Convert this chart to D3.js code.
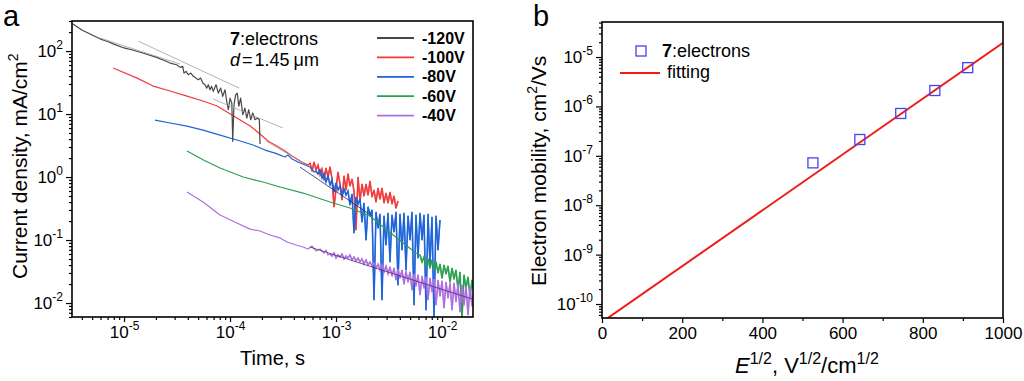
<!DOCTYPE html>
<html><head><meta charset="utf-8">
<script src="https://cdn.jsdelivr.net/npm/d3@7"></script>
<style>
html,body{margin:0;padding:0;background:#fff;}
svg{display:block;}
</style></head><body>
<svg id="chart" width="1024" height="381"></svg>
<script>
// ================= DATA =================
// Panel a: current transients
const timeDomain = [3.23e-6, 1.96e-2];
const currentDomain = [6.0e-3, 300];
const timeTicks = [1e-5, 1e-4, 1e-3, 1e-2];
const timeTickLabels = ["-5", "-4", "-3", "-2"];
const currentTicks = [1e-2, 1e-1, 1, 10, 100];
const currentTickLabels = ["-2", "-1", "0", "1", "2"];
const voltages = ["-120V", "-100V", "-80V", "-60V", "-40V"];

// -120 V
const t120 = [3.3e-6, 4e-6, 5e-6, 6e-6, 7e-6, 8e-6, 1e-5, 1.2e-5, 1.5e-5, 2e-5, 2.5e-5,
  2.72e-5, 3.14e-5, 3.38e-5, 3.58e-5, 3.68e-5, 3.85e-5, 4.04e-5, 4.26e-5, 4.51e-5, 4.78e-5,
  5.02e-5, 5.29e-5, 5.53e-5, 5.81e-5, 6.03e-5, 6.24e-5, 6.47e-5, 6.71e-5, 6.95e-5, 7.38e-5,
  7.76e-5, 8.17e-5, 8.53e-5, 8.97e-5, 9.31e-5, 9.64e-5, 1.00e-4, 1.04e-4, 1.06e-4, 1.09e-4,
  1.13e-4, 1.17e-4, 1.21e-4, 1.26e-4, 1.32e-4, 1.38e-4, 1.44e-4, 1.50e-4, 1.57e-4, 1.64e-4,
  1.72e-4, 1.81e-4, 1.89e-4, 1.92e-4];
const j120 = [268, 216, 180, 155, 142, 129, 112, 104, 93, 80, 69,
  64.5, 60.6, 55.1, 57.2, 44.8, 47.6, 42.1, 44.8, 39.7, 37.2,
  35.0, 37.2, 31.0, 29.2, 25.8, 29.2, 24.3, 27.5, 22.9, 29.2,
  21.5, 25.8, 19.1, 24.3, 15.9, 11.7, 17.9, 14.9, 3.69, 14.1,
  20.2, 21.5, 13.3, 17.9, 9.75, 12.4, 8.64, 11.7, 8.12, 10.4,
  8.12, 8.64, 8.12, 3.34];

// early (smooth) parts of the other transients
const t100Head = [7.9e-6, 1.33e-5, 1.88e-5, 2.72e-5, 3.93e-5, 5.56e-5, 7.54e-5, 9.37e-5, 1.16e-4, 1.55e-4, 1.92e-4, 2.28e-4, 2.66e-4, 3.30e-4, 3.85e-4, 4.77e-4, 5.44e-4];
const j100Head = [53.7, 37.2, 27.8, 23.2, 19.3, 16.1, 13.4, 10.8, 8.64, 6.45, 4.82, 3.73, 3.22, 2.59, 2.15, 1.73, 1.55];
const t80Head = [1.96e-5, 2.72e-5, 3.93e-5, 5.56e-5, 8.05e-5, 1.16e-4, 1.65e-4, 2.14e-4, 2.66e-4, 3.30e-4, 3.52e-4, 3.85e-4, 4.38e-4, 5.10e-4, 5.68e-4, 5.94e-4, 6.20e-4];
const j80Head = [8.03, 7.20, 6.45, 5.57, 4.64, 3.87, 3.22, 2.68, 2.40, 2.08, 2.23, 1.93, 1.73, 1.55, 1.44, 1.34, 1.20];
const t60Head = [3.93e-5, 5.61e-5, 8.05e-5, 1.33e-4, 2.05e-4, 2.96e-4, 4.89e-4, 8.78e-4, 1.355e-3, 2.093e-3, 3.03e-3, 4.29e-3, 5.68e-3];
const j60Head = [2.59, 1.86, 1.39, 1.00, 0.833, 0.694, 0.557, 0.401, 0.322, 0.241, 0.144, 0.0897, 0.0622];
const t40Head = [3.93e-5, 5.56e-5, 8.05e-5, 1.16e-4, 1.55e-4, 1.92e-4, 2.38e-4, 2.96e-4, 3.45e-4, 4.19e-4, 4.89e-4, 5.44e-4, 5.94e-4, 6.48e-4, 7.06e-4, 7.70e-4, 8.04e-4, 8.40e-4];
const j40Head = [0.578, 0.401, 0.250, 0.186, 0.149, 0.139, 0.120, 0.108, 0.0930, 0.0833, 0.0774, 0.0720, 0.0803, 0.0669, 0.0720, 0.0622, 0.0694, 0.0578];

// noisy tails share one time grid
const tailTime = [5.68e-4, 5.94e-4, 6.20e-4, 6.48e-4, 6.76e-4, 7.06e-4, 7.38e-4, 7.70e-4, 8.04e-4, 8.40e-4,
  8.78e-4, 9.17e-4, 9.57e-4, 1.000e-3, 1.044e-3, 1.091e-3, 1.139e-3, 1.190e-3, 1.243e-3, 1.298e-3,
  1.355e-3, 1.416e-3, 1.478e-3, 1.544e-3, 1.613e-3, 1.684e-3, 1.759e-3, 1.837e-3, 1.919e-3, 2.004e-3,
  2.093e-3, 2.186e-3, 2.283e-3, 2.384e-3, 2.490e-3, 2.600e-3, 2.716e-3, 2.836e-3, 2.962e-3, 3.094e-3,
  3.231e-3, 3.374e-3, 3.524e-3, 3.681e-3, 3.844e-3, 4.015e-3, 4.193e-3, 4.379e-3, 4.573e-3, 4.776e-3,
  4.988e-3, 5.21e-3, 5.44e-3, 5.68e-3, 5.94e-3, 6.20e-3, 6.48e-3, 6.76e-3, 7.06e-3, 7.38e-3,
  7.70e-3, 8.04e-3, 8.40e-3, 8.78e-3, 9.17e-3, 9.57e-3, 1.000e-2, 1.044e-2, 1.091e-2, 1.139e-2,
  1.190e-2, 1.243e-2, 1.298e-2, 1.355e-2, 1.416e-2, 1.478e-2, 1.544e-2, 1.613e-2, 1.684e-2, 1.759e-2,
  1.837e-2, 1.919e-2, 2.004e-2];
const tail100Start = 0, tail80Start = 3, tail60Start = 55, tail40Start = 10;
const j100Tail = [1.67, 1.24, 1.73, 1.29, 1.55, 1.08, 1.34, 0.896, 1.39, 1.00,
  1.45, 0.929, 0.335, 0.645, 1.20, 0.774, 0.432, 1.04, 0.622, 1.12,
  0.720, 0.929, 0.600, 0.144, 1.00, 0.416, 0.774, 0.500, 0.774, 0.518,
  0.864, 0.482, 0.622, 0.401, 0.669, 0.447, 0.669, 0.387, 0.557, 0.387,
  0.578, 0.373, 0.500, 0.322, 0.416];
const j80Tail = [1.24, 1.12, 1.29, 0.964, 1.12, 0.833, 1.04, 0.746, 0.896, 0.578,
  0.803, 0.622, 0.720, 0.500, 0.645, 0.518, 0.600, 0.360, 0.537, 0.129,
  0.482, 0.373, 0.447, 0.193, 0.387, 0.100, 0.335, 0.250, 0.300, 0.0112,
  0.278, 0.155, 0.259, 0.0112, 0.241, 0.0833, 0.268, 0.0448, 0.250, 0.134,
  0.278, 0.0193, 0.259, 0.0694, 0.268, 0.0334, 0.241, 0.100, 0.278, 0.00929,
  0.250, 0.0518, 0.268, 0.100, 0.250, 0.00774, 0.259, 0.0401, 0.232, 0.0058,
  0.241, 0.0694, 0.208];
const j60Tail = [0.0578, 0.0448, 0.0537, 0.0387, 0.0500, 0.0359, 0.0482, 0.0334, 0.0448, 0.0300,
  0.0416, 0.0249, 0.0401, 0.0289, 0.0387, 0.0215, 0.0359, 0.0240, 0.0334, 0.0161,
  0.0311, 0.0058, 0.0279, 0.0173, 0.0259, 0.0129, 0.0232, 0.0150];
const j40Tail = [0.0600, 0.0557, 0.0622, 0.0518, 0.0578, 0.0537, 0.0600, 0.0500, 0.0557, 0.0518,
  0.0578, 0.0482, 0.0537, 0.0465, 0.0518, 0.0448, 0.0500, 0.0416, 0.0482, 0.0401,
  0.0448, 0.0387, 0.0432, 0.0359, 0.0416, 0.0334, 0.0401, 0.0311, 0.0387, 0.0289,
  0.0373, 0.0268, 0.0359, 0.0232, 0.0346, 0.0249, 0.0334, 0.0200, 0.0322, 0.0215,
  0.0311, 0.0161, 0.0289, 0.0186, 0.0279, 0.0134, 0.0268, 0.0173, 0.0259, 0.0112,
  0.0249, 0.0150, 0.0240, 0.00929, 0.0232, 0.0129, 0.0224, 0.00833, 0.0215, 0.0120,
  0.0207, 0.00774, 0.0207, 0.0104, 0.0200, 0.00720, 0.0193, 0.00929, 0.0186, 0.00645,
  0.0179, 0.00896, 0.0161];

// thin transit-time guide lines (two end points each)
const guideT = [[5.94e-6, 3.38e-5], [1.36e-5, 1.22e-4], [6.92e-5, 3.16e-4], [2.19e-4, 4.89e-4], [4.57e-4, 2.186e-3], [5.68e-4, 1.919e-2]];
const guideJ = [[161, 62.2], [144, 25.8], [17.3, 6.00], [3.73, 1.67], [1.44, 0.241], [0.0774, 0.0116]];

// Panel b: mobility vs sqrt(E)
const fieldDomain = [0, 1000];
const mobilityDomain = [5.21e-11, 5.12e-5];
const fieldTicks = [0, 200, 400, 600, 800, 1000];
const fieldMinorTicks = [100, 300, 500, 700, 900];
const mobilityTicks = [1e-10, 1e-9, 1e-8, 1e-7, 1e-6, 1e-5];
const mobilityTickLabels = ["-10", "-9", "-8", "-7", "-6", "-5"];
const fieldSqrt = [526, 643, 745, 830, 912];
const mobility = [7.2e-8, 2.14e-7, 7.2e-7, 2.1e-6, 6.1e-6];
const fitField = [0, 1000];
const fitMobility = [4.31e-11, 1.95e-5];

// ================= DRAWING =================
const FONT = "'Liberation Sans', Arial, Helvetica, sans-serif";
const curveColors = ["#474747", "#f23a3a", "#1c63d9", "#28a050", "#ae6ee0"];
const guideColors = ["#a0a0a0", "#a0a0a0", "#a0a0a0", "#a0a0a0", "#1d2f78", "#4a2f66"];

const svg = d3.select("#chart").attr("font-family", FONT);
svg.append("rect").attr("width", 1024).attr("height", 381).attr("fill", "#fff");

function minorLog(domain) {
  const out = [];
  const lo = Math.floor(Math.log10(domain[0])), hi = Math.ceil(Math.log10(domain[1]));
  for (let e = lo; e <= hi; e++) for (let m = 2; m <= 9; m++) {
    const v = m * Math.pow(10, e);
    if (v >= domain[0] && v <= domain[1]) out.push(v);
  }
  return out;
}
function supLabels(g, ticks, exps) {
  g.selectAll(".tick text").each(function (d) {
    const i = ticks.indexOf(d);
    const t = d3.select(this).text(null);
    t.append("tspan").text("10");
    t.append("tspan").attr("dy", -8).attr("font-size", 12).text(exps[i]);
  });
}
function styleAxis(g) {
  g.attr("font-family", FONT).attr("font-size", 17);
  g.select(".domain").remove();
  g.selectAll(".tick line").attr("stroke", "#000").attr("stroke-width", 1.2);
  g.selectAll(".tick text").attr("fill", "#000");
}
const zip = (ts, vs) => ts.map((t, i) => [t, vs[i]]);

// ---------- Panel a ----------
const A = {left: 72, right: 473, top: 21, bottom: 317};
const xA = d3.scaleLog().domain(timeDomain).range([A.left, A.right]);
const yA = d3.scaleLog().domain(currentDomain).range([A.bottom, A.top]);

svg.append("clipPath").attr("id", "clipA").append("rect")
  .attr("x", A.left).attr("y", A.top).attr("width", A.right - A.left).attr("height", A.bottom - A.top);

const headsA = [zip(t120, j120), zip(t100Head, j100Head), zip(t80Head, j80Head), zip(t60Head, j60Head), zip(t40Head, j40Head)];
const tailsA = [
  [],
  zip(tailTime.slice(tail100Start, tail100Start + j100Tail.length), j100Tail),
  zip(tailTime.slice(tail80Start, tail80Start + j80Tail.length), j80Tail),
  zip(tailTime.slice(tail60Start, tail60Start + j60Tail.length), j60Tail),
  zip(tailTime.slice(tail40Start, tail40Start + j40Tail.length), j40Tail)
];
const lineA = d3.line().x(d => xA(d[0])).y(d => yA(d[1]));
const plotA = svg.append("g").attr("clip-path", "url(#clipA)");
[1, 2, 3, 4, 0].forEach(k => {
  const all = headsA[k].concat(tailsA[k]);
  plotA.append("path").datum(all).attr("d", lineA)
    .attr("fill", "none").attr("stroke", curveColors[k]).attr("stroke-width", 1.2)
    .attr("stroke-linejoin", "round");
  if (tailsA[k].length) {
    plotA.append("path").datum(tailsA[k]).attr("d", lineA)
      .attr("fill", "none").attr("stroke", curveColors[k]).attr("stroke-width", 1.6)
      .attr("stroke-linejoin", "miter").attr("opacity", 0.85);
  }
});
guideT.forEach((ts, k) => {
  plotA.append("path").datum(zip(ts, guideJ[k])).attr("d", lineA)
    .attr("fill", "none").attr("stroke", guideColors[k]).attr("stroke-width", 0.8);
});

// axes a
const gxAminor = svg.append("g").attr("transform", `translate(0,${A.bottom})`)
  .call(d3.axisBottom(xA).tickValues(minorLog(timeDomain)).tickSize(3).tickFormat(""));
styleAxis(gxAminor);
const gxA = svg.append("g").attr("transform", `translate(0,${A.bottom})`)
  .call(d3.axisBottom(xA).tickValues(timeTicks).tickSize(5).tickPadding(4));
styleAxis(gxA); supLabels(gxA, timeTicks, timeTickLabels);
const gyAminor = svg.append("g").attr("transform", `translate(${A.left},0)`)
  .call(d3.axisLeft(yA).tickValues(minorLog(currentDomain)).tickSize(3).tickFormat(""));
styleAxis(gyAminor);
const gyA = svg.append("g").attr("transform", `translate(${A.left},0)`)
  .call(d3.axisLeft(yA).tickValues(currentTicks).tickSize(6).tickPadding(3));
styleAxis(gyA); supLabels(gyA, currentTicks, currentTickLabels);

svg.append("rect").attr("x", A.left).attr("y", A.top).attr("width", A.right - A.left).attr("height", A.bottom - A.top)
  .attr("fill", "none").attr("stroke", "#000").attr("stroke-width", 1.6);

// legend a
voltages.forEach((v, i) => {
  const y = 38 + i * 19.4;
  svg.append("line").attr("x1", 377).attr("x2", 414).attr("y1", y).attr("y2", y)
    .attr("stroke", curveColors[i]).attr("stroke-width", 1.8);
  svg.append("text").attr("x", 422).attr("y", y + 5.5).attr("font-size", 16).attr("font-weight", "bold")
    .attr("fill", "#000").text(v);
});
const ta1 = svg.append("text").attr("x", 230).attr("y", 45).attr("font-size", 18).attr("fill", "#000");
ta1.append("tspan").attr("font-weight", "bold").text("7");
ta1.append("tspan").text(":electrons");
const ta2 = svg.append("text").attr("x", 230).attr("y", 66).attr("font-size", 18).attr("fill", "#000");
ta2.append("tspan").attr("font-style", "italic").text("d");
ta2.append("tspan").attr("dx", 2).text("=");
ta2.append("tspan").attr("dx", 2).text("1.45");
ta2.append("tspan").attr("dx", 4).text("μm");

// titles a
svg.append("text").attr("x", 3).attr("y", 26).attr("font-size", 29).attr("fill", "#000").text("a");
svg.append("text").attr("x", 272.5).attr("y", 365).attr("text-anchor", "middle").attr("font-size", 20)
  .attr("fill", "#000").text("Time, s");
const yTitleA = svg.append("text").attr("transform", "translate(27,279) rotate(-90)")
  .attr("font-size", 21).attr("fill", "#000");
yTitleA.append("tspan").text("Current density, mA/cm");
yTitleA.append("tspan").attr("dy", -9).attr("font-size", 14).text("2");

// ---------- Panel b ----------
const B = {left: 602, right: 1003, top: 22, bottom: 318};
const xB = d3.scaleLinear().domain(fieldDomain).range([B.left, B.right]);
const yB = d3.scaleLog().domain(mobilityDomain).range([B.bottom, B.top]);

svg.append("clipPath").attr("id", "clipB").append("rect")
  .attr("x", B.left).attr("y", B.top).attr("width", B.right - B.left).attr("height", B.bottom - B.top);
const plotB = svg.append("g").attr("clip-path", "url(#clipB)");
plotB.append("path").datum(zip(fitField, fitMobility))
  .attr("d", d3.line().x(d => xB(d[0])).y(d => yB(d[1])))
  .attr("fill", "none").attr("stroke", "#ee1c1c").attr("stroke-width", 2);
plotB.selectAll("rect.pt").data(zip(fieldSqrt, mobility)).enter().append("rect").attr("class", "pt")
  .attr("x", d => xB(d[0]) - 5).attr("y", d => yB(d[1]) - 5).attr("width", 10).attr("height", 10)
  .attr("fill", "none").attr("stroke", "#4343f2").attr("stroke-width", 1.3);

const gxBminor = svg.append("g").attr("transform", `translate(0,${B.bottom})`)
  .call(d3.axisBottom(xB).tickValues(fieldMinorTicks).tickSize(3).tickFormat(""));
styleAxis(gxBminor);
const gxB = svg.append("g").attr("transform", `translate(0,${B.bottom})`)
  .call(d3.axisBottom(xB).tickValues(fieldTicks).tickSize(5).tickPadding(4).tickFormat(d3.format("d")));
styleAxis(gxB);
const gyBminor = svg.append("g").attr("transform", `translate(${B.left},0)`)
  .call(d3.axisLeft(yB).tickValues(minorLog(mobilityDomain)).tickSize(3).tickFormat(""));
styleAxis(gyBminor);
const gyB = svg.append("g").attr("transform", `translate(${B.left},0)`)
  .call(d3.axisLeft(yB).tickValues(mobilityTicks).tickSize(6).tickPadding(3));
styleAxis(gyB); supLabels(gyB, mobilityTicks, mobilityTickLabels);

svg.append("rect").attr("x", B.left).attr("y", B.top).attr("width", B.right - B.left).attr("height", B.bottom - B.top)
  .attr("fill", "none").attr("stroke", "#000").attr("stroke-width", 1.6);

// legend b
svg.append("rect").attr("x", 636).attr("y", 46).attr("width", 10).attr("height", 10)
  .attr("fill", "none").attr("stroke", "#4343f2").attr("stroke-width", 1.3);
const tb1 = svg.append("text").attr("x", 662).attr("y", 57).attr("font-size", 18).attr("fill", "#000");
tb1.append("tspan").attr("font-weight", "bold").text("7");
tb1.append("tspan").text(":electrons");
svg.append("line").attr("x1", 620).attr("x2", 660).attr("y1", 73).attr("y2", 73)
  .attr("stroke", "#ee1c1c").attr("stroke-width", 2);
svg.append("text").attr("x", 667).attr("y", 78).attr("font-size", 18).attr("fill", "#000").text("fitting");

// titles b
svg.append("text").attr("x", 533).attr("y", 26).attr("font-size", 29).attr("fill", "#000").text("b");
const yTitleB = svg.append("text").attr("transform", "translate(546,286) rotate(-90)")
  .attr("font-size", 21).attr("fill", "#000");
yTitleB.append("tspan").text("Electron mobility, cm");
yTitleB.append("tspan").attr("dy", -9).attr("font-size", 14).text("2");
yTitleB.append("tspan").attr("dy", 9).text("/Vs");
const xTitleB = svg.append("text").attr("x", 735).attr("y", 373).attr("font-size", 22).attr("fill", "#000");
xTitleB.append("tspan").attr("font-style", "italic").text("E");
xTitleB.append("tspan").attr("dy", -9).attr("font-size", 16).text("1/2");
xTitleB.append("tspan").attr("dy", 9).text(", V");
xTitleB.append("tspan").attr("dy", -9).attr("font-size", 16).text("1/2");
xTitleB.append("tspan").attr("dy", 9).text("/cm");
xTitleB.append("tspan").attr("dy", -9).attr("font-size", 16).text("1/2");
</script>
</body></html>
